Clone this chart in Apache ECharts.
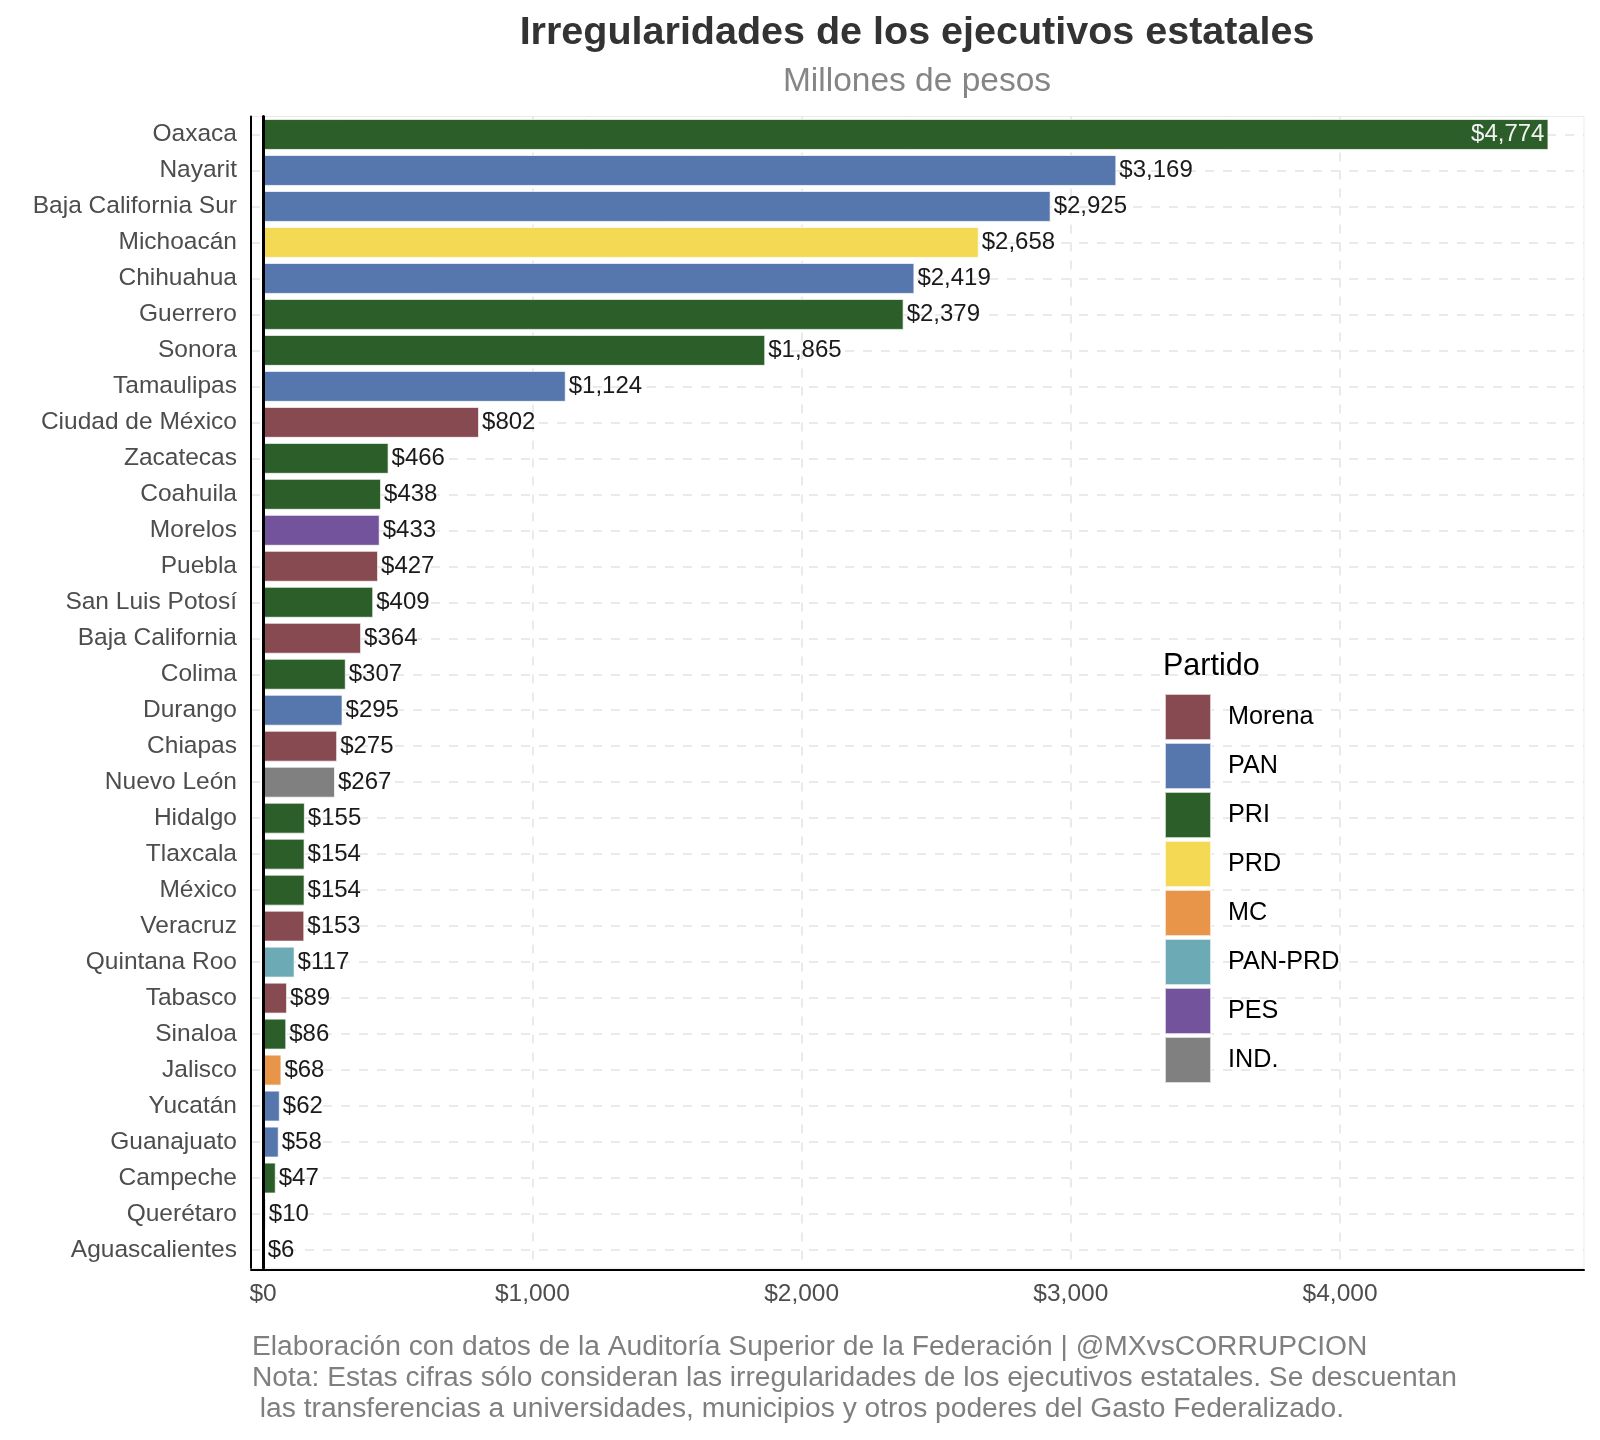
<!DOCTYPE html>
<html>
<head>
<meta charset="utf-8">
<script src="https://cdn.jsdelivr.net/npm/echarts@6/dist/echarts.min.js"></script>
<style>
html,body{margin:0;padding:0;background:#fff;}
#chart{width:1600px;height:1440px;}
</style>
</head>
<body>
<div id="chart"></div>
<script>
// ---- Data ----
const states = ["Oaxaca","Nayarit","Baja California Sur","Michoacán","Chihuahua","Guerrero","Sonora","Tamaulipas","Ciudad de México","Zacatecas","Coahuila","Morelos","Puebla","San Luis Potosí","Baja California","Colima","Durango","Chiapas","Nuevo León","Hidalgo","Tlaxcala","México","Veracruz","Quintana Roo","Tabasco","Sinaloa","Jalisco","Yucatán","Guanajuato","Campeche","Querétaro","Aguascalientes"];
const amounts = [4774,3169,2925,2658,2419,2379,1865,1124,802,466,438,433,427,409,364,307,295,275,267,155,154,154,153,117,89,86,68,62,58,47,10,6];
const parties = ["PRI","PAN","PAN","PRD","PAN","PRI","PRI","PAN","Morena","PRI","PRI","PES","Morena","PRI","Morena","PRI","PAN","Morena","IND.","PRI","PRI","PRI","Morena","PAN-PRD","Morena","PRI","MC","PAN","PAN","PRI","PAN","PAN"];
const partyNames = ["Morena","PAN","PRI","PRD","MC","PAN-PRD","PES","IND."];
const partyColors = ["#874A51","#5677AD","#2C5E2A","#F4D955","#E8954A","#6CAAB5","#73539C","#808080"];
const xTicks = [0,1000,2000,3000,4000];
const titleText = "Irregularidades de los ejecutivos estatales";
const subtitleText = "Millones de pesos";
const captionLines = [
  "Elaboración con datos de la Auditoría Superior de la Federación | @MXvsCORRUPCION",
  "Nota: Estas cifras sólo consideran las irregularidades de los ejecutivos estatales. Se descuentan",
  " las transferencias a universidades, municipios y otros poderes del Gasto Federalizado."
];

// ---- Build ----
const FONT = "'Liberation Sans', Arial, Helvetica, sans-serif";
const maxVal = Math.max.apply(null, amounts);
const money = v => '$' + Number(v).toLocaleString('en-US');

const series = partyNames.map((p, pi) => {
  const s = {
    name: p,
    type: 'bar',
    stack: 'total',
    yAxisIndex: 0,
    barWidth: '86%',
    itemStyle: { color: partyColors[pi], borderColor: 'rgba(255,255,255,0.7)', borderWidth: 1 },
    label: {
      show: true, position: 'right', distance: 3,
      fontFamily: FONT, fontSize: 24, color: '#1a1a1a',
      formatter: prm => money(prm.value)
    },
    data: amounts.map((v, i) => {
      if (parties[i] !== p) return '-';
      if (v === maxVal) {
        return { value: v, label: { position: 'insideRight', color: '#f2f2f2', distance: 4 } };
      }
      return v;
    })
  };
  if (pi === partyNames.length - 1) {
    s.markLine = {
      silent: true, symbol: ['none', 'none'], animation: false,
      label: { show: false },
      lineStyle: { color: '#000000', width: 3, type: 'solid' },
      data: [{ xAxis: 0 }]
    };
  }
  return s;
});

const chart = echarts.init(document.getElementById('chart'), null, { renderer: 'canvas' });
chart.setOption({
  animation: false,
  backgroundColor: '#ffffff',
  title: [
    { text: titleText, left: 917, top: 13, textAlign: 'center', padding: 0,
      textStyle: { fontFamily: FONT, fontSize: 39.5, fontWeight: 'bold', color: '#333333' } },
    { text: subtitleText, left: 917, top: 65, textAlign: 'center', padding: 0,
      textStyle: { fontFamily: FONT, fontSize: 33.5, fontWeight: 'normal', color: '#858585' } },
    { text: 'Partido', left: 1163, top: 651, padding: 0,
      textStyle: { fontFamily: FONT, fontSize: 30.5, fontWeight: 'normal', color: '#000000' } },
    { text: captionLines.join('\n'), left: 252, top: 1332, padding: 0,
      textStyle: { fontFamily: FONT, fontSize: 28.2, lineHeight: 31, fontWeight: 'normal', color: '#7f7f7f' } }
  ],
  legend: {
    orient: 'vertical', left: 1164, top: 693, padding: 0,
    itemWidth: 46, itemHeight: 46, itemGap: 1,
    icon: 'rect',
    data: partyNames,
    selectedMode: false,
    textStyle: { fontFamily: FONT, fontSize: 25.2, color: '#000000', padding: [8, 0, 0, 12] }
  },
  grid: {
    left: 251, right: 16, top: 116.5, bottom: 172,
    show: true, borderColor: '#ebebeb', borderWidth: 1, backgroundColor: 'transparent'
  },
  xAxis: {
    type: 'value', min: -45, max: 4906, offset: 2,
    axisLine: { show: true, onZero: false, lineStyle: { color: '#000000', width: 2 } },
    axisTick: { show: false, customValues: xTicks },
    axisLabel: {
      customValues: xTicks, margin: 12,
      fontFamily: FONT, fontSize: 24.5, color: '#4d4d4d',
      formatter: v => money(v)
    },
    splitLine: { show: true, lineStyle: { color: '#e3e3e3', width: 1.5, type: [9, 9] } }
  },
  yAxis: [
    {
      type: 'category', data: states, inverse: true,
      axisLine: { show: true, onZero: true, lineStyle: { color: '#000000', width: 3 } },
      axisTick: { show: false },
      axisLabel: { interval: 0, margin: 14, fontFamily: FONT, fontSize: 24.5, color: '#4d4d4d', padding: [6, 0, 0, 0] },
      splitLine: { show: true, interval: 0, alignWithLabel: true,
        lineStyle: { color: '#e3e3e3', width: 1.5, type: [9, 9] } }
    },
    {
      type: 'category', data: states, inverse: true, position: 'left',
      axisLine: { show: true, onZero: false, lineStyle: { color: '#000000', width: 2 } },
      axisTick: { show: false },
      axisLabel: { show: false },
      splitLine: { show: false }
    }
  ],
  series: series
});
</script>
</body>
</html>
